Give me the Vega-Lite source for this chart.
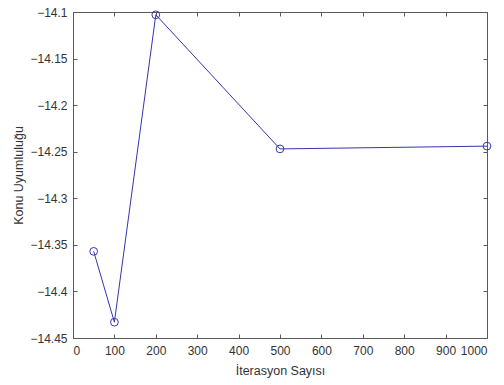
{
  "$schema": "https://vega.github.io/schema/vega-lite/v6.json",
  "width": 414,
  "height": 326,
  "autosize": {"type": "none"},
  "padding": {"left": 73, "top": 12, "right": 17, "bottom": 47},
  "background": "white",
  "config": {
    "font": "Liberation Sans",
    "view": {"stroke": null},
    "axis": {
      "grid": false,
      "domainColor": "#5a5a5a",
      "tickColor": "#5a5a5a",
      "tickSize": -4,
      "labelColor": "#333333",
      "titleColor": "#333333",
      "labelFontSize": 12,
      "titleFontSize": 12.5,
      "titleFontWeight": "normal",
      "labelFont": "Liberation Sans",
      "titleFont": "Liberation Sans"
    }
  },
  "data": {
    "values": [
      {"iter": 50, "score": -14.357},
      {"iter": 100, "score": -14.433},
      {"iter": 200, "score": -14.103},
      {"iter": 500, "score": -14.247},
      {"iter": 1000, "score": -14.244}
    ]
  },
  "layer": [
    {
      "mark": {"type": "line", "color": "#3535b0", "strokeWidth": 1, "point": {"shape": "circle", "filled": false, "size": 60, "color": "#3535b0", "strokeWidth": 1}},
      "encoding": {
        "x": {"field": "iter", "type": "quantitative", "scale": {"domain": [0, 1000], "nice": false}, "axis": {"orient": "bottom", "title": "İterasyon Sayısı", "format": "d", "values": [0,100,200,300,400,500,600,700,800,900,1000], "labelPadding": 11, "titlePadding": 8}},
        "y": {"field": "score", "type": "quantitative", "scale": {"domain": [-14.45, -14.1], "nice": false, "zero": false}, "axis": {"orient": "left", "title": "Konu Uyumluluğu", "format": ".2~f", "values": [-14.45,-14.4,-14.35,-14.3,-14.25,-14.2,-14.15,-14.1], "labelPadding": 10, "titlePadding": 4}}
      }
    },
    {
      "mark": {"type": "point", "opacity": 0},
      "encoding": {
        "x": {"field": "iter", "type": "quantitative", "scale": {"domain": [0, 1000], "nice": false}, "axis": {"orient": "top", "title": null, "labels": false, "values": [0,100,200,300,400,500,600,700,800,900,1000]}},
        "y": {"field": "score", "type": "quantitative", "scale": {"domain": [-14.45, -14.1], "nice": false, "zero": false}, "axis": {"orient": "right", "title": null, "labels": false, "values": [-14.45,-14.4,-14.35,-14.3,-14.25,-14.2,-14.15,-14.1]}}
      }
    }
  ],
  "resolve": {"axis": {"x": "independent", "y": "independent"}}
}
